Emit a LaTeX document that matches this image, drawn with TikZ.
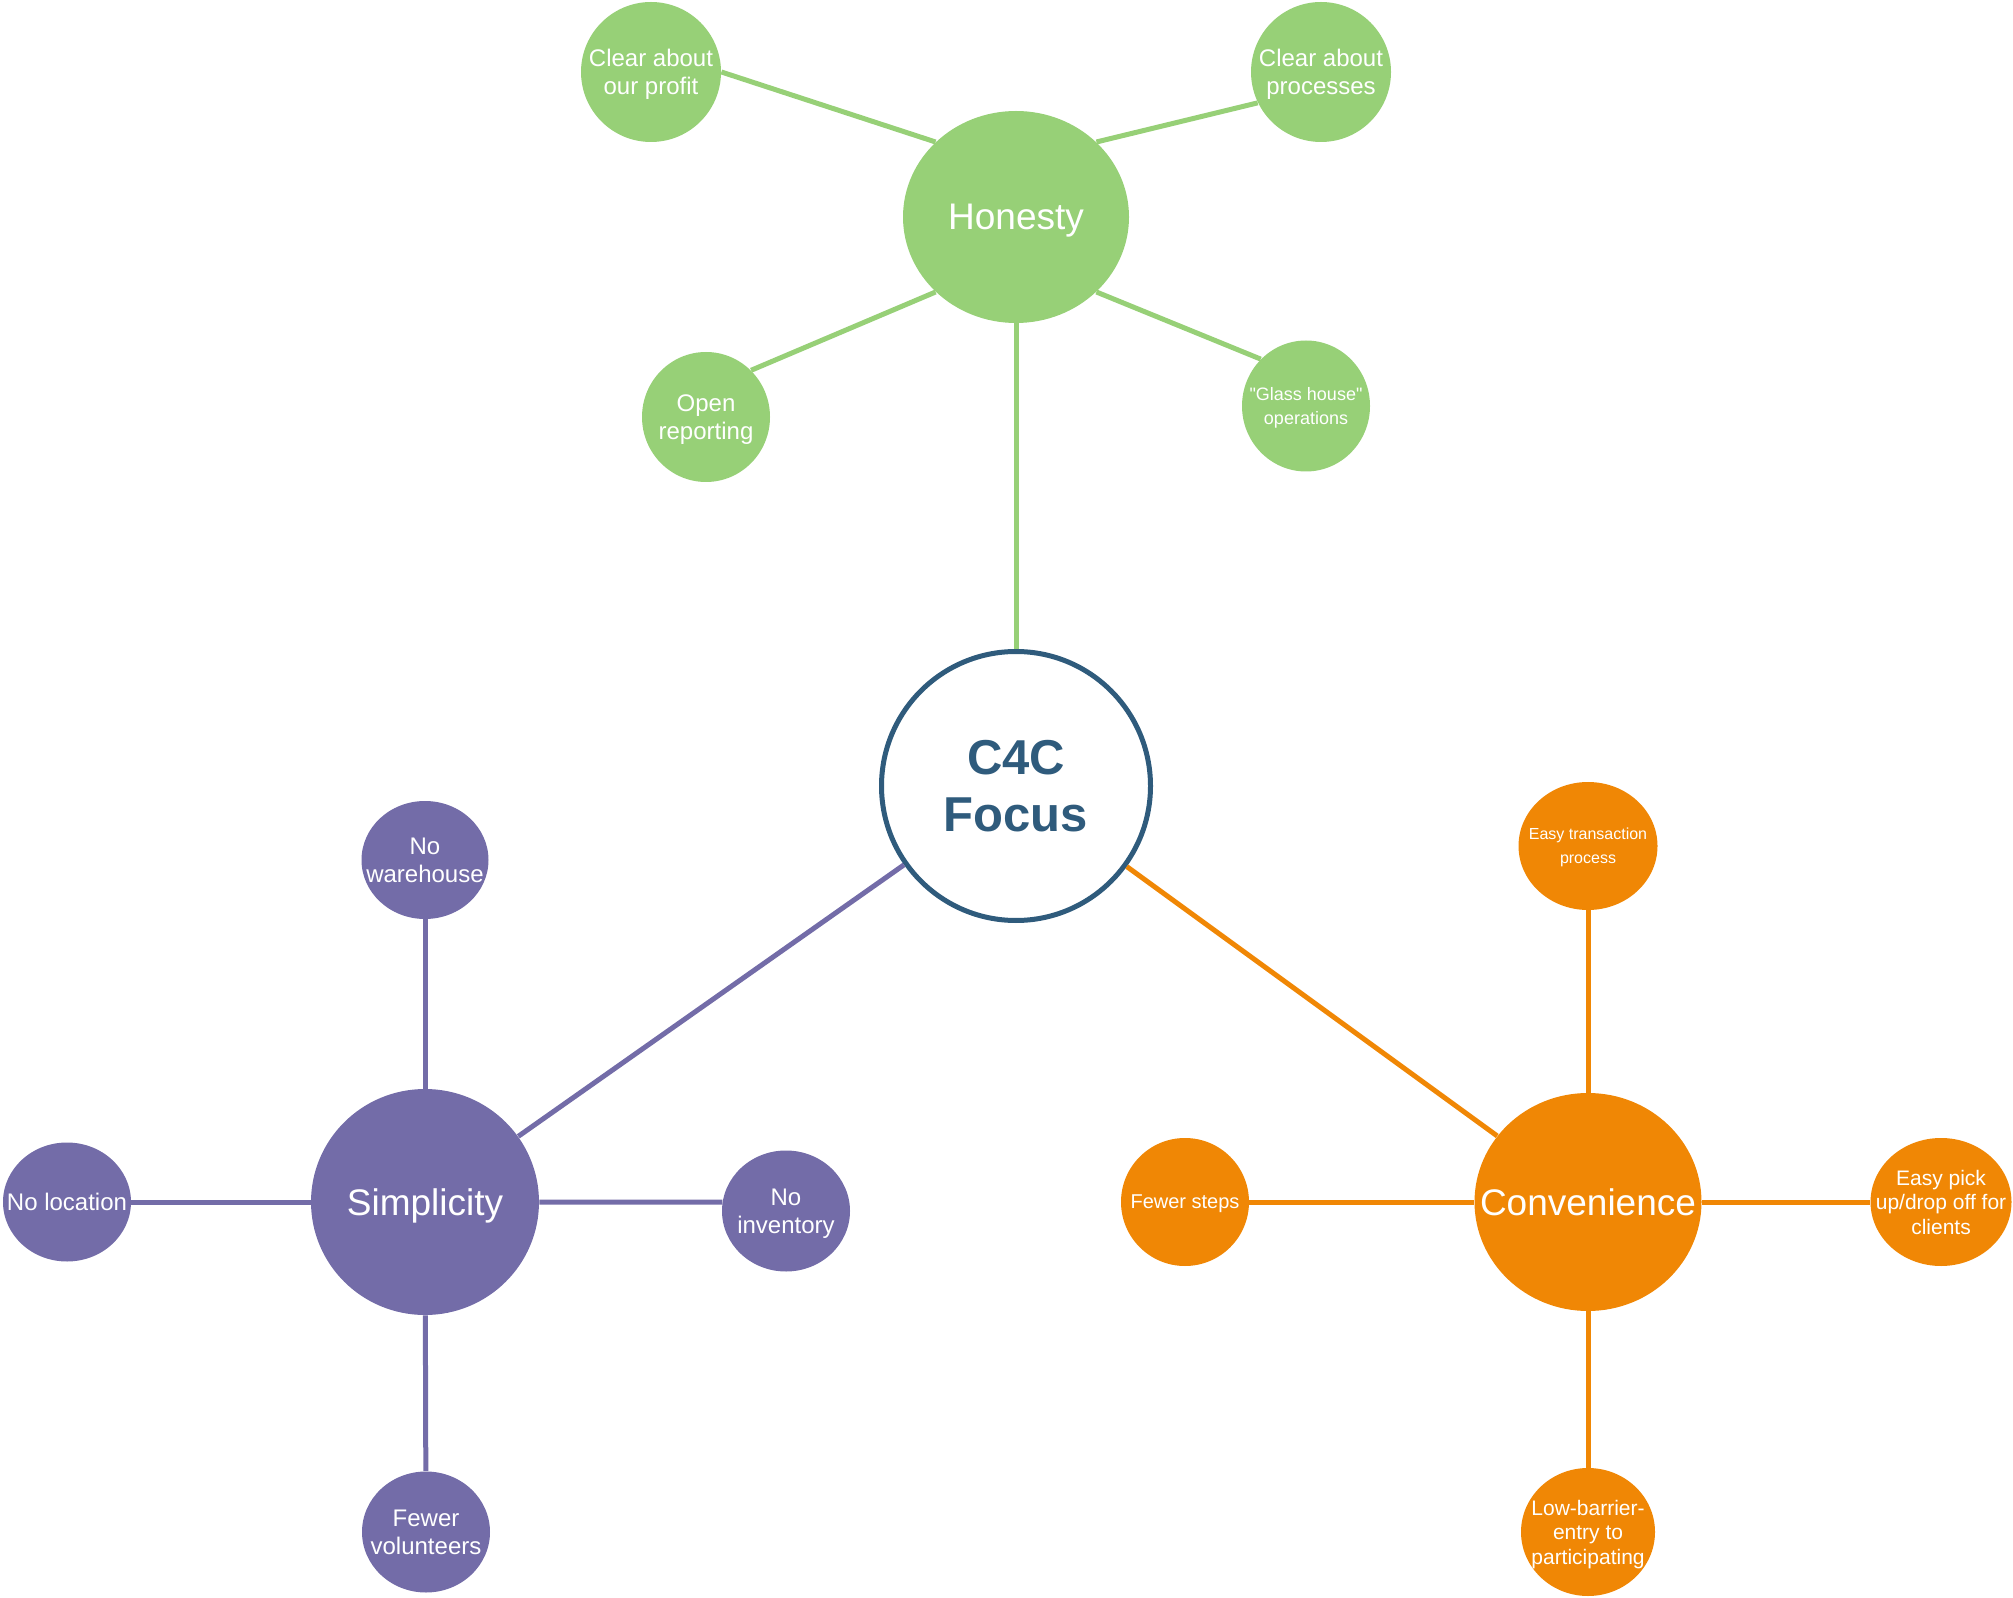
\documentclass[tikz,border=0pt]{standalone}
\usepackage{fontspec}
\setmainfont{Liberation Sans}[Ligatures=TeXOff]
\usetikzlibrary{shapes.geometric}
\definecolor{hgreen}{HTML}{97D077}
\definecolor{spurple}{HTML}{736CA8}
\definecolor{corange}{HTML}{F08705}
\definecolor{fblue}{HTML}{2F5B7C}
% bubble size comes from minimum width/height only
\tikzstyle{bubble}=[ellipse,inner sep=-50pt,text depth=0pt,text=white,align=center]
\tikzstyle{focus}=[ellipse,draw=fblue,line width=2.5pt,fill=white,text=fblue,inner sep=-50pt,align=center,font=\bfseries\fontsize{24.5}{28.5}\selectfont]
\tikzstyle{hub}=[bubble,font=\fontsize{18.5}{22}\selectfont]
\tikzstyle{leaf}=[bubble,font=\fontsize{12}{14}\selectfont]
\tikzstyle{smallleaf}=[bubble,font=\fontsize{10.5}{12.2}\selectfont]
\tikzstyle{tinyleaf}=[bubble,font=\fontsize{8}{12}\selectfont]
\tikzstyle{link}=[line width=2.5pt]
\begin{document}
\begin{tikzpicture}[x=0.5pt,y=-0.5pt]
  \useasboundingbox (0,0) rectangle (2013,1598);
  \node[focus,minimum width=134.5pt,minimum height=134.5pt] (c4c) at (1016,786) {C4C\\Focus};

  % Honesty
  \node[hub,fill=hgreen,minimum width=113pt,minimum height=106pt] (hon) at (1016,217) {Honesty};
  \node[leaf,fill=hgreen,minimum width=70pt,minimum height=70pt] (profit) at (651,72) {Clear about\\our profit};
  \node[leaf,fill=hgreen,minimum width=70pt,minimum height=70pt] (procs) at (1321,72) {Clear about\\processes};
  \node[leaf,fill=hgreen,minimum width=64pt,minimum height=65pt] (openrep) at (706,417) {Open\\reporting};
  \node[tinyleaf,font=\fontsize{9}{12.2}\selectfont,fill=hgreen,minimum width=64pt,minimum height=65.5pt] (glass) at (1306,406) {"Glass house"\\operations};
  \draw[link,hgreen] (hon.137) -- (profit.east);
  \draw[link,hgreen] (hon.43) -- (procs.206);
  \draw[link,hgreen] (hon.223) -- (openrep.46);
  \draw[link,hgreen] (hon.317) -- (glass.134);
  \draw[link,hgreen] (hon) -- (c4c);

  % Simplicity
  \node[hub,fill=spurple,minimum width=114pt,minimum height=113pt] (simp) at (425,1202) {Simplicity};
  \node[leaf,fill=spurple,minimum width=63.5pt,minimum height=59pt] (nowh) at (425,860) {No\\warehouse};
  \node[leaf,fill=spurple,minimum width=64pt,minimum height=59.5pt] (noloc) at (67,1202) {No location};
  \node[leaf,fill=spurple,minimum width=64pt,minimum height=60.5pt] (noinv) at (786,1211) {No\\inventory};
  \node[leaf,fill=spurple,minimum width=64pt,minimum height=60.5pt] (fewvol) at (426,1532) {Fewer\\volunteers};
  \draw[link,spurple] (simp) -- (nowh);
  \draw[link,spurple] (simp) -- (noloc);
  \draw[link,spurple] (simp.east) -- (noinv.172);
  \draw[link,spurple] (simp) -- (fewvol);
  \draw[link,spurple] (simp) -- (c4c);

  % Convenience
  \node[hub,fill=corange,minimum width=113.5pt,minimum height=109pt] (conv) at (1588,1202) {Convenience};
  \node[tinyleaf,fill=corange,minimum width=69.5pt,minimum height=64pt] (easytr) at (1588,846) {Easy transaction\\process};
  \node[bubble,font=\fontsize{10}{12}\selectfont,fill=corange,minimum width=64pt,minimum height=64pt] (fewst) at (1185,1202) {Fewer steps};
  \node[smallleaf,fill=corange,minimum width=70.5pt,minimum height=64pt] (easypick) at (1941,1202) {Easy pick\\up/drop off for\\clients};
  \node[smallleaf,fill=corange,minimum width=67pt,minimum height=64pt] (lowbar) at (1588,1532) {Low-barrier-\\entry to\\participating};
  \draw[link,corange] (conv) -- (easytr);
  \draw[link,corange] (conv) -- (fewst);
  \draw[link,corange] (conv) -- (easypick);
  \draw[link,corange] (conv) -- (lowbar);
  \draw[link,corange] (conv) -- (c4c);
\end{tikzpicture}
\end{document}
